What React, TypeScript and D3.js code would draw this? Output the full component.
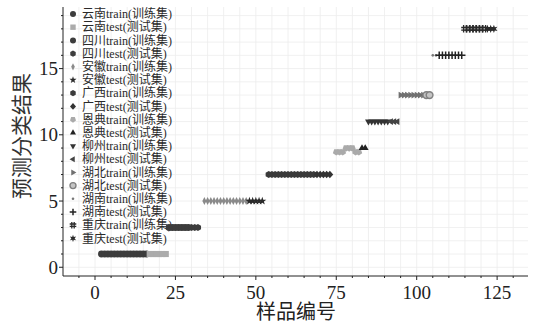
import React from "react";
import * as d3 from "d3";

const W = 535;
const H = 323;

// ---- data (sample index -> predicted class) ----
const yunnanTrainX = [2, 3, 4, 5, 6, 7, 8, 9, 10, 11, 12, 13, 14, 15, 16];
const yunnanTrainY = [1, 1, 1, 1, 1, 1, 1, 1, 1, 1, 1, 1, 1, 1, 1];
const yunnanTestX = [17, 18, 19, 20, 21, 22];
const yunnanTestY = [1, 1, 1, 1, 1, 1];
const sichuanTrainX = [23, 24, 25, 26, 27, 28, 29];
const sichuanTrainY = [3, 3, 3, 3, 3, 3, 3];
const sichuanTestX = [30, 31, 32];
const sichuanTestY = [3, 3, 3];
const anhuiTrainX = [34, 35, 36, 37, 38, 39, 40, 41, 42, 43, 44, 45, 46, 47];
const anhuiTrainY = [5, 5, 5, 5, 5, 5, 5, 5, 5, 5, 5, 5, 5, 5];
const anhuiTestX = [48, 49, 50, 51, 52];
const anhuiTestY = [5, 5, 5, 5, 5];
const guangxiTrainX = [54, 55, 56, 57, 58, 59, 60, 61, 62, 63, 64, 65, 66, 67, 68];
const guangxiTrainY = [7, 7, 7, 7, 7, 7, 7, 7, 7, 7, 7, 7, 7, 7, 7];
const guangxiTestX = [69, 70, 71, 72, 73];
const guangxiTestY = [7, 7, 7, 7, 7];
const endianTrainX = [75, 76, 77, 78, 79, 80, 81, 82];
const endianTrainY = [8.7, 8.7, 8.7, 9, 9, 9, 8.7, 8.7];
const endianTestX = [83, 84];
const endianTestY = [9, 9];
const liuzhouTrainX = [85, 86, 87, 88, 89, 90, 91];
const liuzhouTrainY = [11, 11, 11, 11, 11, 11, 11];
const liuzhouTestX = [92, 93, 94];
const liuzhouTestY = [11, 11, 11];
const hubeiTrainX = [95, 96, 97, 98, 99, 100, 101, 102];
const hubeiTrainY = [13, 13, 13, 13, 13, 13, 13, 13];
const hubeiTestX = [103, 104];
const hubeiTestY = [13, 13];
const hunanTrainX = [105, 106];
const hunanTrainY = [16, 16];
const hunanTestX = [107, 108, 109, 110, 111, 112, 113, 114];
const hunanTestY = [16, 16, 16, 16, 16, 16, 16, 16];
const chongqingTrainX = [115, 116, 117, 118, 119, 120, 121];
const chongqingTrainY = [18, 18, 18, 18, 18, 18, 18];
const chongqingTestX = [122, 123, 124];
const chongqingTestY = [18, 18, 18];

const seriesNames = [
  "云南train(训练集)", "云南test(测试集)",
  "四川train(训练集)", "四川test(测试集)",
  "安徽train(训练集)", "安徽test(测试集)",
  "广西train(训练集)", "广西test(测试集)",
  "恩典train(训练集)", "恩典test(测试集)",
  "柳州train(训练集)", "柳州test(测试集)",
  "湖北train(训练集)", "湖北test(测试集)",
  "湖南train(训练集)", "湖南test(测试集)",
  "重庆train(训练集)", "重庆test(测试集)",
];
const seriesX = [
  yunnanTrainX, yunnanTestX, sichuanTrainX, sichuanTestX, anhuiTrainX, anhuiTestX,
  guangxiTrainX, guangxiTestX, endianTrainX, endianTestX, liuzhouTrainX, liuzhouTestX,
  hubeiTrainX, hubeiTestX, hunanTrainX, hunanTestX, chongqingTrainX, chongqingTestX,
];
const seriesY = [
  yunnanTrainY, yunnanTestY, sichuanTrainY, sichuanTestY, anhuiTrainY, anhuiTestY,
  guangxiTrainY, guangxiTestY, endianTrainY, endianTestY, liuzhouTrainY, liuzhouTestY,
  hubeiTrainY, hubeiTestY, hunanTrainY, hunanTestY, chongqingTrainY, chongqingTestY,
];

const xTicks = [0, 25, 50, 75, 100, 125];
const yTicks = [0, 5, 10, 15];

// ---- marker styles ----
type Style = { shape: string; fill: string; stroke?: string; sw?: number };
const styles: Style[] = [
  { shape: "o", fill: "#3c3c3c" },
  { shape: "s", fill: "#ababab" },
  { shape: "o", fill: "#3c3c3c" },
  { shape: "h", fill: "#3c3c3c" },
  { shape: "d", fill: "#8a8a8a" },
  { shape: "*5", fill: "#2a2a2a" },
  { shape: "h", fill: "#3a3a3a" },
  { shape: "D", fill: "#333" },
  { shape: "p", fill: "#aaaaaa" },
  { shape: "^", fill: "#222" },
  { shape: "v", fill: "#333" },
  { shape: "<", fill: "#444" },
  { shape: ">", fill: "#707070" },
  { shape: "oo", fill: "#c4c4c4", stroke: "#808080", sw: 1.4 },
  { shape: ".", fill: "#777" },
  { shape: "+", fill: "none", stroke: "#222", sw: 1.5 },
  { shape: "#", fill: "none", stroke: "#2a2a2a", sw: 1.3 },
  { shape: "*6", fill: "#2a2a2a" },
];

function poly(pts: [number, number][]) {
  return "M" + pts.map((p) => p[0].toFixed(2) + "," + p[1].toFixed(2)).join("L") + "Z";
}
function regular(n: number, r: number, rot: number) {
  const pts: [number, number][] = [];
  for (let i = 0; i < n; i++) {
    const a = rot + (i * 2 * Math.PI) / n;
    pts.push([r * Math.sin(a), -r * Math.cos(a)]);
  }
  return poly(pts);
}
function starPath(n: number, ro: number, ri: number) {
  const pts: [number, number][] = [];
  for (let i = 0; i < 2 * n; i++) {
    const a = (i * Math.PI) / n;
    const r = i % 2 === 0 ? ro : ri;
    pts.push([r * Math.sin(a), -r * Math.cos(a)]);
  }
  return poly(pts);
}
function markerPath(shape: string, r: number): string {
  switch (shape) {
    case "o":
    case "oo":
      return d3.symbol(d3.symbolCircle, Math.PI * r * r)() as string;
    case ".":
      return d3.symbol(d3.symbolCircle, Math.PI * 1.3 * 1.3)() as string;
    case "s":
      return poly([[-r * 0.9, -r * 0.9], [r * 0.9, -r * 0.9], [r * 0.9, r * 0.9], [-r * 0.9, r * 0.9]]);
    case "h":
      return regular(6, r * 1.05, 0);
    case "p":
      return regular(5, r * 1.05, Math.PI);
    case "d":
      return poly([[0, -r * 1.2], [r * 0.6, 0], [0, r * 1.2], [-r * 0.6, 0]]);
    case "D":
      return poly([[0, -r * 1.1], [r * 1.0, 0], [0, r * 1.1], [-r * 1.0, 0]]);
    case "*5":
      return starPath(5, r * 1.25, r * 0.5);
    case "*6":
      return starPath(6, r * 1.2, r * 0.55);
    case "^":
      return regular(3, r * 1.15, 0);
    case "v":
      return regular(3, r * 1.15, Math.PI);
    case "<":
      return regular(3, r * 1.15, -Math.PI / 2);
    case ">":
      return regular(3, r * 1.15, Math.PI / 2);
    case "+":
      return `M${-r * 1.1},0H${r * 1.1}M0,${-r * 1.1}V${r * 1.1}`;
    case "#": {
      const a = r * 1.1, b = r * 0.4;
      return `M${-a},${-b}H${a}M${-a},${b}H${a}M${-b},${-a}V${a}M${b},${-a}V${a}`;
    }
  }
  return "";
}

const serif = "'Liberation Serif', 'Times New Roman', 'Noto Sans CJK SC', serif";

export default function App() {
  const x = d3.scaleLinear().domain([-9.95, 134.6]).range([63, 528]);
  const y = d3.scaleLinear().domain([-0.66, 19.65]).range([276, 7]);
  const [x0, x1] = x.range();
  const [yb, yt] = y.range();

  const xMinor = d3.range(-5, 135, 5);
  const yMinor = d3.range(0, 20, 1);
  const R = 3.4;

  return (
    <svg width={W} height={H} style={{ position: "absolute", left: 0, top: 0, background: "#fff" }}>
      <rect x={0} y={0} width={W} height={H} fill="#fff" />
      {/* grid */}
      <g stroke="#ececec" strokeWidth={0.8}>
        {xMinor.map((v) => (
          <line key={"gx" + v} x1={x(v)} x2={x(v)} y1={yt} y2={yb} />
        ))}
        {yMinor.map((v) => (
          <line key={"gy" + v} x1={x0} x2={x1} y1={y(v)} y2={y(v)} />
        ))}
      </g>
      {/* legend */}
      <g fontFamily={serif} fontSize={12} fill="#2a2a2a">
        {seriesNames.map((name, i) => {
          const cy = 14 + 13.2 * i;
          const st = styles[i];
          return (
            <g key={name}>
              <path
                d={markerPath(st.shape, 3)}
                transform={`translate(73,${cy})`}
                fill={st.fill}
                stroke={st.stroke || "none"}
                strokeWidth={st.sw || 0}
              />
              <text x={82} y={cy} dy="0.35em">{name}</text>
            </g>
          );
        })}
      </g>
      {/* data */}
      <g>
        {seriesX.map((xs, si) => {
          const st = styles[si];
          const d = markerPath(st.shape, R);
          return (
            <g key={"s" + si} fill={st.fill} stroke={st.stroke || "none"} strokeWidth={st.sw || 0}>
              {xs.map((xv, j) => (
                <path key={j} d={d} transform={`translate(${x(xv)},${y(seriesY[si][j])})`} />
              ))}
            </g>
          );
        })}
      </g>
      {/* axes */}
      <g stroke="#222" strokeWidth={1}>
        <line x1={x0} x2={x0} y1={yt} y2={yb} />
        <line x1={x0} x2={x1} y1={yb} y2={yb} />
        {yMinor.map((v) => (
          <line key={"ty" + v} x1={x0} x2={x0 - (v % 5 === 0 ? 4 : 2)} y1={y(v)} y2={y(v)} />
        ))}
        {xMinor.map((v) => (
          <line key={"tx" + v} x1={x(v)} x2={x(v)} y1={yb} y2={yb + (v % 25 === 0 ? 4 : 2)} />
        ))}
      </g>
      <g fontFamily={serif} fontSize={19} fill="#222">
        {yTicks.map((v) => (
          <text key={"ly" + v} x={58} y={y(v)} dy="0.35em" textAnchor="end">{v}</text>
        ))}
        {xTicks.map((v) => (
          <text key={"lx" + v} x={x(v)} y={292} dy="0.35em" textAnchor="middle">{v}</text>
        ))}
      </g>
      <text x={296} y={312} dy="0.35em" textAnchor="middle" fontFamily={serif} fontSize={20} fill="#222">样品编号</text>
      <text
        transform="translate(22,136) rotate(-90)"
        textAnchor="middle"
        dy="0.35em"
        fontFamily={serif}
        fontSize={21}
        fill="#333"
      >预测分类结果</text>
    </svg>
  );
}
